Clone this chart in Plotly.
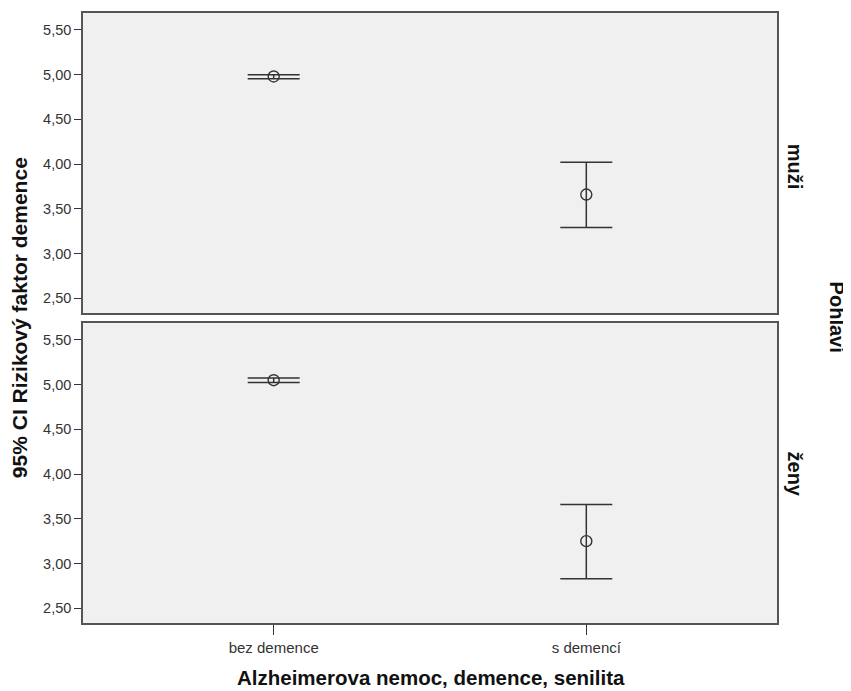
import plotly.graph_objects as go
from plotly.subplots import make_subplots

categories = ["bez demence", "s demencí"]
panels = ["muži", "ženy"]
mean_muzi = [4.98, 3.66]
upper_muzi = [5.00, 4.02]
lower_muzi = [4.955, 3.29]
mean_zeny = [5.05, 3.25]
upper_zeny = [5.075, 3.66]
lower_zeny = [5.025, 2.83]
ytick_vals = [2.5, 3.0, 3.5, 4.0, 4.5, 5.0, 5.5]

FONT = "Liberation Sans, Arial, sans-serif"
DARK = "#333333"

fig = make_subplots(rows=2, cols=1, shared_xaxes=True, vertical_spacing=10 / 612)

series = [(mean_muzi, upper_muzi, lower_muzi), (mean_zeny, upper_zeny, lower_zeny)]
for i, (m, u, l) in enumerate(series):
    fig.add_trace(go.Scatter(
        x=categories, y=m, mode="markers",
        marker=dict(symbol="circle-open", size=11, color=DARK, line=dict(width=1.4, color=DARK)),
        error_y=dict(type="data", symmetric=False,
                     array=[a - b for a, b in zip(u, m)],
                     arrayminus=[b - c for b, c in zip(m, l)],
                     color=DARK, thickness=1.5, width=26),
        showlegend=False, hoverinfo="skip"), row=i + 1, col=1)

for r in (1, 2):
    fig.update_yaxes(range=[2.335, 5.69], tickvals=ytick_vals, tickformat=".2f",
                     ticks="outside", ticklen=7, tickcolor=DARK, tickwidth=1.2,
                     showgrid=False, zeroline=False,
                     showline=True, mirror=True, linecolor="#555555", linewidth=1.6,
                     tickfont=dict(family=FONT, size=14.5, color=DARK), row=r, col=1)
    fig.update_xaxes(range=[-0.61, 1.61], showgrid=False, zeroline=False,
                     showline=True, mirror=True, linecolor="#555555", linewidth=1.6,
                     row=r, col=1)
fig.update_xaxes(ticks="", showticklabels=False, row=1, col=1)
fig.update_xaxes(ticks="outside", ticklen=10, tickcolor=DARK, tickwidth=1.2,
                 tickfont=dict(family=FONT, size=15, color=DARK), row=2, col=1)

annos = [
    dict(text="<b>95% CI Rizikový faktor demence</b>", x=-0.092, y=0.5, textangle=-90, size=21),
    dict(text="<b>Alzheimerova nemoc, demence, senilita</b>", x=0.501, y=-0.09, textangle=0, size=20.5),
    dict(text="<b>" + panels[0] + "</b>", x=1.026, y=0.748, textangle=90, size=20),
    dict(text="<b>" + panels[1] + "</b>", x=1.026, y=0.245, textangle=90, size=20),
    dict(text="<b>Pohlaví</b>", x=1.087, y=0.5, textangle=90, size=20),
]
for a in annos:
    fig.add_annotation(xref="paper", yref="paper", showarrow=False,
                       xanchor="center", yanchor="middle",
                       text=a["text"], x=a["x"], y=a["y"], textangle=a["textangle"],
                       font=dict(family=FONT, color="#111111", size=a["size"]))

fig.update_layout(width=851, height=691, margin=dict(l=75, r=82, t=3, b=76),
                  paper_bgcolor="white", plot_bgcolor="#f0f0f0",
                  separators=", ", font=dict(family=FONT))

fig.write_html("out.html")
